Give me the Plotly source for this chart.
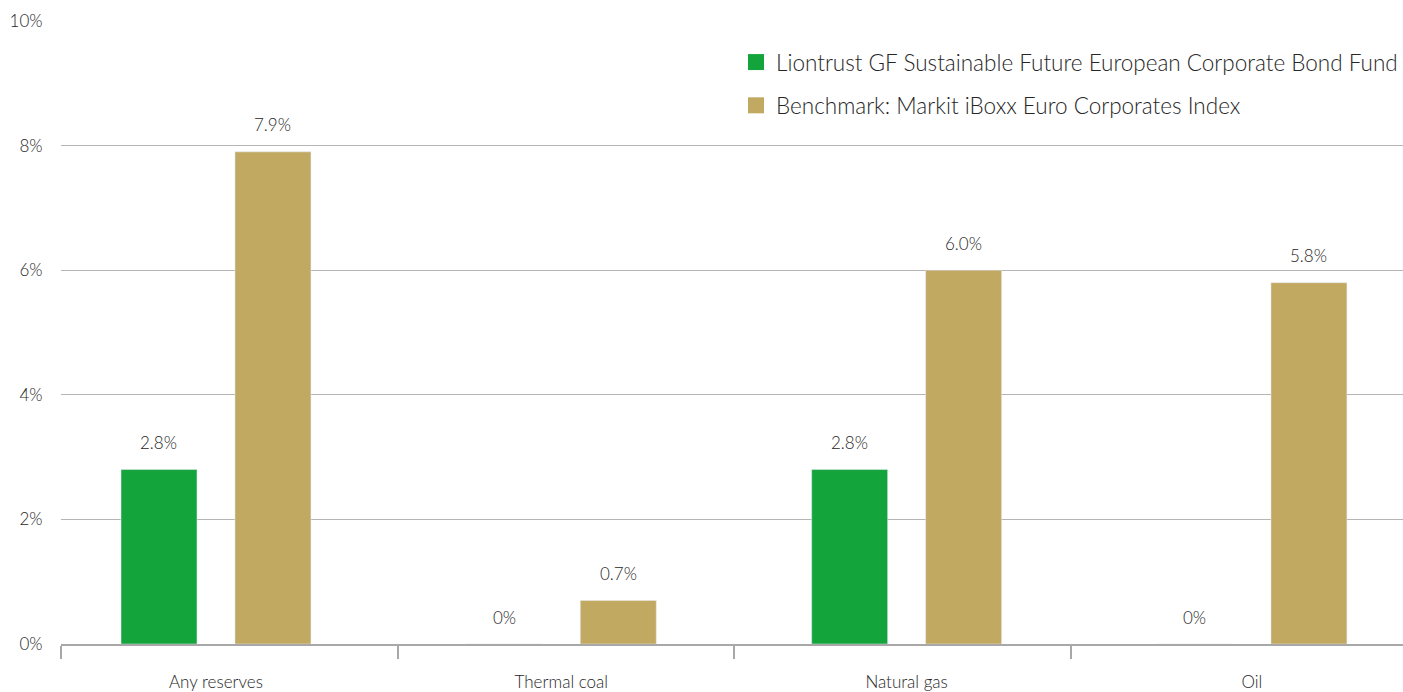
import plotly.graph_objects as go

categories = ["Any reserves", "Thermal coal", "Natural gas", "Oil"]
fund_name = "Liontrust GF Sustainable Future European Corporate Bond Fund"
bench_name = "Benchmark: Markit iBoxx Euro Corporates Index"
fund_values = [2.8, 0.0, 2.8, 0.0]
bench_values = [7.9, 0.7, 6.0, 5.8]
y_ticks = [0, 2, 4, 6, 8, 10]

GREEN = "#14A43C"
GOLD = "#C2A962"
FONT = "Lato"
TXT = "#262626"
WEIGHT = 300


def fmt(v):
    return f"{v:.1f}%" if v else "0%"


fig = go.Figure()
fig.add_trace(go.Bar(
    x=categories, y=fund_values, name=fund_name, marker_color=GREEN,
    width=0.22, offset=-0.275, showlegend=False,
))
fig.add_trace(go.Bar(
    x=categories, y=bench_values, name=bench_name, marker_color=GOLD,
    width=0.22, offset=0.055, showlegend=False,
))
# legend entries (attached to the tick axis x2 so it renders)
for i, (nm, col) in enumerate([(fund_name, GREEN), (bench_name, GOLD)]):
    fig.add_trace(go.Scatter(
        x=[None], y=[None], mode="markers", name=nm, xaxis="x2",
        legendgroup=f"g{i}",
        marker=dict(symbol="square", size=28, color=col),
    ))

# value labels above bars
annotations = []
for vals, shift in [(fund_values, -57), (bench_values, 57)]:
    for c, v in zip(categories, vals):
        annotations.append(dict(
            x=c, y=v, xref="x", yref="y", text=fmt(v), showarrow=False,
            xshift=shift, yshift=27, yanchor="middle",
            font=dict(size=17, color=TXT, family=FONT, weight=WEIGHT),
        ))

fig.update_layout(
    width=1403, height=692,
    margin=dict(l=61, r=0, t=21, b=48),
    plot_bgcolor="white", paper_bgcolor="white",
    barmode="overlay",
    font=dict(family=FONT, color=TXT, size=17, weight=WEIGHT),
    annotations=annotations,
    legend=dict(
        x=1.0, xanchor="right", y=0.968, yanchor="top",
        font=dict(size=22.5, color=TXT, family=FONT, weight=WEIGHT),
        bgcolor="rgba(0,0,0,0)", tracegroupgap=11, itemsizing="trace",
    ),
    xaxis=dict(
        type="category", range=[-0.4488, 3.4374],
        ticks="outside", ticklen=23, tickcolor="rgba(0,0,0,0)",
        showgrid=False, showline=False, zeroline=False,
        tickfont=dict(size=17, color=TXT, family=FONT, weight=WEIGHT),
    ),
    xaxis2=dict(
        overlaying="x", anchor="y", side="bottom",
        range=[-0.5, 3.488], tickvals=[-0.5, 0.5, 1.5, 2.5],
        showticklabels=False, ticks="outside", ticklen=13, tickwidth=1.5,
        tickcolor="#a8a8a8", showline=True, linecolor="#a8a8a8", linewidth=2,
        showgrid=False, zeroline=False,
    ),
    yaxis=dict(
        range=[0, 10], tickvals=y_ticks, ticktext=[f"{v}%" for v in y_ticks],
        showgrid=True, gridcolor="#b5b5b5", gridwidth=1,
        zeroline=False, showline=False,
        ticks="outside", ticklen=14, tickcolor="rgba(0,0,0,0)",
        tickfont=dict(size=17, color=TXT, family=FONT, weight=WEIGHT),
    ),
)

fig.write_html(
    "out.html",
    config={"displayModeBar": False},
    post_script="document.body.style.margin='0';document.body.style.overflow='hidden';",
)
